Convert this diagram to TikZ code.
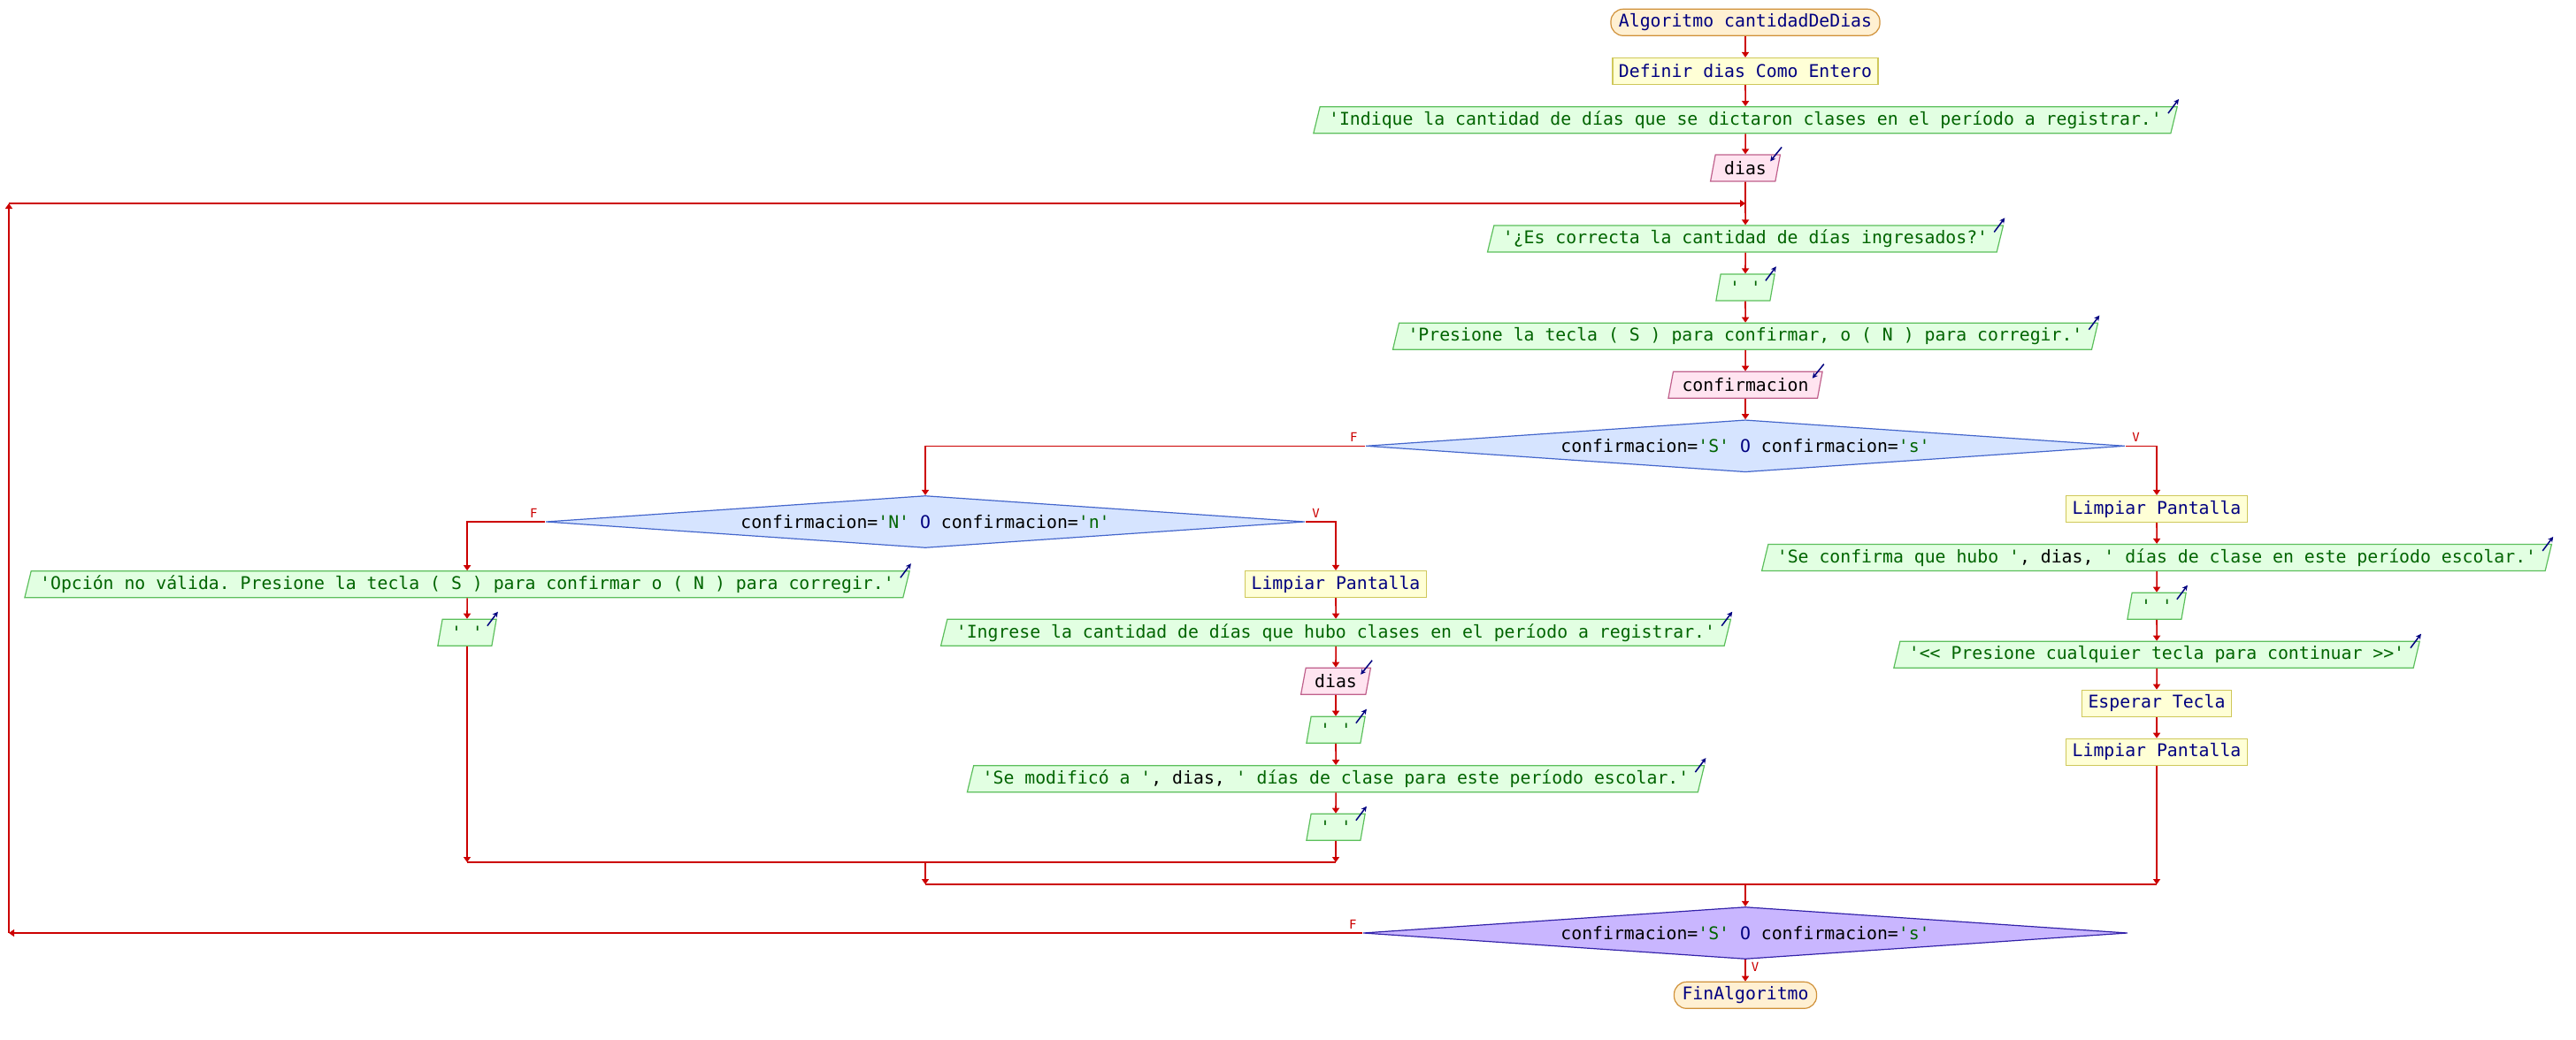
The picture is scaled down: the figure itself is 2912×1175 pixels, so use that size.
\documentclass[tikz,border=0pt]{standalone}
\usepackage{fontspec}
\setmonofont{DejaVu Sans Mono}
\usetikzlibrary{shapes.geometric,arrows.meta}

\definecolor{navy}{HTML}{000080}
\definecolor{strg}{HTML}{006400}
\definecolor{termf}{HTML}{FFF0D2}
\definecolor{termb}{HTML}{D0913A}
\definecolor{procf}{HTML}{FFFFD6}
\definecolor{procb}{HTML}{CFC85A}
\definecolor{outf}{HTML}{E2FFE2}
\definecolor{outb}{HTML}{5CBF5C}
\definecolor{inf}{HTML}{FFE4F0}
\definecolor{inb}{HTML}{C0608C}
\definecolor{condf}{HTML}{D6E4FF}
\definecolor{condb}{HTML}{4466CC}
\definecolor{loopf}{HTML}{C9B6FF}
\definecolor{loopb}{HTML}{3322AA}
\definecolor{flowred}{HTML}{CC0000}

\tikzset{
  every node/.style={font=\ttfamily\fontsize{19.8pt}{22pt}\selectfont},
  base/.style={minimum height=30pt, inner ysep=0pt, line width=1.2pt},
  term/.style={base, draw=termb, fill=termf, text=navy, rounded corners=14pt, inner xsep=9pt},
  proc/.style={base, draw=procb, fill=procf, text=navy, inner xsep=7pt},
  para/.style={base, trapezium, trapezium stretches=true, trapezium left angle=70,
               trapezium right angle=110, inner xsep=10pt},
  outp/.style={para, draw=outb, fill=outf, text=strg},
  inp/.style={para, draw=inb, fill=inf, text=black},
  cond/.style={diamond, aspect=14, inner sep=0pt, minimum width=858pt, minimum height=59pt,
               draw=condb, fill=condf, line width=1.2pt, text=black},
  loopcond/.style={cond, draw=loopb, fill=loopf, minimum width=864pt},
  flow/.style={draw=flowred, line width=1.6pt, -{Triangle[length=6pt,width=8pt]}},
  seg/.style={draw=flowred, line width=1.6pt},
  lbl/.style={text=flowred, font=\ttfamily\fontsize{14pt}{14pt}\selectfont, inner sep=0pt},
  outmark/.style={draw=navy, line width=1.5pt, -{Stealth[length=6pt,width=6pt]}},
}
% output marker: arrow leaving the top right corner
\newcommand\outsign[1]{\draw[outmark] ([shift={(-11pt,-8pt)}]#1.top right corner) -- ([shift={(1pt,8pt)}]#1.top right corner);}
% input marker: arrow entering the top right corner
\newcommand\insign[1]{\draw[outmark] ([shift={(1pt,8pt)}]#1.top right corner) -- ([shift={(-12pt,-8pt)}]#1.top right corner);}

\begin{document}
\begin{tikzpicture}[x=1pt,y=-1pt]
\useasboundingbox[fill=white] (0,0) rectangle (2912,1175);

% main column
\node[term] (start) at (1973,25.3) {Algoritmo cantidadDeDias};
\node[proc] (def) at (1973,80.5) {Definir dias Como Entero};
\node[outp] (o1) at (1973,135.7) {'Indique la cantidad de días que se dictaron clases en el período a registrar.'};
\node[inp] (i1) at (1973,190) {dias};
\coordinate (loopin) at (1973,230);
\node[outp] (o2) at (1973,270) {'¿Es correcta la cantidad de días ingresados?'};
\node[outp] (o3) at (1973,325) {' '};
\node[outp] (o4) at (1973,380.3) {'Presione la tecla ( S ) para confirmar, o ( N ) para corregir.'};
\node[inp] (i2) at (1973,435.3) {confirmacion};
\node[cond] (d1) at (1973,504.3) {confirmacion=\textcolor{strg}{'S'} \textcolor{navy}{O} confirmacion=\textcolor{strg}{'s'}};

% true branch of the first decision
\node[proc] (r1) at (2438,575.5) {Limpiar Pantalla};
\node[outp] (r2) at (2438,630.5) {'Se confirma que hubo '\textcolor{black}{, dias, }' días de clase en este período escolar.'};
\node[outp] (r3) at (2438,685.3) {' '};
\node[outp] (r4) at (2438,740.3) {'<< Presione cualquier tecla para continuar >>'};
\node[proc] (r5) at (2438,795.3) {Esperar Tecla};
\node[proc] (r6) at (2438,850.3) {Limpiar Pantalla};

% false branch: second decision
\node[cond] (d2) at (1046,590) {confirmacion=\textcolor{strg}{'N'} \textcolor{navy}{O} confirmacion=\textcolor{strg}{'n'}};

\node[outp] (l1) at (528,660.8) {'Opción no válida. Presione la tecla ( S ) para confirmar o ( N ) para corregir.'};
\node[outp] (l2) at (528,715.3) {' '};

\node[proc] (m1) at (1510,660.5) {Limpiar Pantalla};
\node[outp] (m2) at (1510,715.3) {'Ingrese la cantidad de días que hubo clases en el período a registrar.'};
\node[inp] (m3) at (1510,770.3) {dias};
\node[outp] (m4) at (1510,825.3) {' '};
\node[outp] (m5) at (1510,880.7) {'Se modificó a '\textcolor{black}{, dias, }' días de clase para este período escolar.'};
\node[outp] (m6) at (1510,935.3) {' '};

% loop condition and end
\node[loopcond] (d3) at (1973,1055) {confirmacion=\textcolor{strg}{'S'} \textcolor{navy}{O} confirmacion=\textcolor{strg}{'s'}};
\node[term] (fin) at (1973,1125.3) {FinAlgoritmo};

% junction points
\coordinate (jl) at (528,975);
\coordinate (jm) at (1510,975);
\coordinate (js) at (1046,975);
\coordinate (jd) at (1046,1000);
\coordinate (jr) at (2438,1000);
\coordinate (jc) at (1973,1000);
\coordinate (lb) at (10,1055);
\coordinate (lt) at (10,230);

% I/O markers
\foreach \n in {o1,o2,o3,o4,r2,r3,r4,l1,l2,m2,m4,m5,m6} {\outsign{\n}}
\foreach \n in {i1,i2,m3} {\insign{\n}}

% connectors
\draw[flow] (start.south) -- (def.north);
\draw[flow] (def.south) -- (o1.north);
\draw[flow] (o1.south) -- (i1.north);
\draw[seg] (i1.south) -- (loopin);
\draw[flow] (loopin) -- (o2.north);
\draw[flow] (o2.south) -- (o3.north);
\draw[flow] (o3.south) -- (o4.north);
\draw[flow] (o4.south) -- (i2.north);
\draw[flow] (i2.south) -- (d1.north);

\draw[flow] (d1.east) -| (r1.north);
\draw[flow] (r1.south) -- (r2.north);
\draw[flow] (r2.south) -- (r3.north);
\draw[flow] (r3.south) -- (r4.north);
\draw[flow] (r4.south) -- (r5.north);
\draw[flow] (r5.south) -- (r6.north);
\draw[flow] (r6.south) -- (jr);

\draw[flow] (d1.west) -| (d2.north);
\draw[flow] (d2.west) -| (l1.north);
\draw[flow] (l1.south) -- (l2.north);
\draw[flow] (l2.south) -- (jl);

\draw[flow] (d2.east) -| (m1.north);
\draw[flow] (m1.south) -- (m2.north);
\draw[flow] (m2.south) -- (m3.north);
\draw[flow] (m3.south) -- (m4.north);
\draw[flow] (m4.south) -- (m5.north);
\draw[flow] (m5.south) -- (m6.north);
\draw[flow] (m6.south) -- (jm);

\draw[seg] (jl) -- (jm);
\draw[flow] (js) -- (jd);
\draw[seg] (jd) -- (jr);
\draw[flow] (jc) -- (d3.north);
\draw[flow] (d3.south) -- (fin.north);

\draw[flow] (d3.west) -- (lb);
\draw[flow] (lb) -- (lt);
\draw[flow] (lt) -- (loopin);

% branch labels
\node[lbl] (f1) at ([shift={(-13pt,10pt)}]d1.west) {F};
\node[lbl] (v1) at ([shift={(12pt,10pt)}]d1.east) {V};
\node[lbl] (f2) at ([shift={(-13pt,10pt)}]d2.west) {F};
\node[lbl] (v2) at ([shift={(12pt,10pt)}]d2.east) {V};
\node[lbl] (f3) at ([shift={(-11pt,10pt)}]d3.west) {F};
\node[lbl] (v3) at ([shift={(11pt,-8pt)}]d3.south) {V};
\end{tikzpicture}
\end{document}
